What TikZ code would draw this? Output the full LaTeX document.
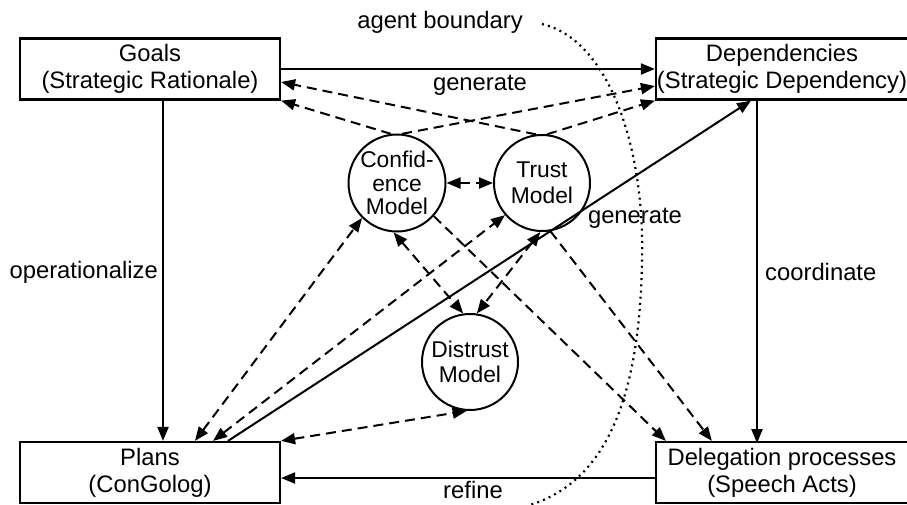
\documentclass[tikz,border=0pt]{standalone}
\usepackage{fontspec}
\setmainfont{Liberation Sans}
\usetikzlibrary{arrows.meta,calc}
\begin{document}
\begin{tikzpicture}[x=1pt,y=-1pt,
  box/.style={draw,line width=2.2pt,rectangle,minimum width=260pt,minimum height=61pt,inner sep=0pt,align=center,font=\fontsize{23.8pt}{27pt}\selectfont},
  model/.style={draw,line width=2pt,circle,minimum size=96pt,inner sep=0pt,align=center},
  lbl/.style={font=\fontsize{23.8pt}{27pt}\selectfont,inner sep=0pt},
  tip/.style={-{Triangle[length=14pt,width=11pt]}},
  dtip/.style={{Triangle[length=14pt,width=11pt]}-{Triangle[length=14pt,width=11pt]}},
  solid line/.style={line width=2pt},
  dashline/.style={line width=2pt,dash pattern=on 10pt off 6pt},
  dotline/.style={line width=2.2pt,dash pattern=on 2pt off 4.2pt}
]
\useasboundingbox (0,0) rectangle (907,504);
% boxes
\node[box] (goals) at (150,69) {Goals\\(Strategic Rationale)};
\node[box,minimum width=252pt] (dep) at (782,69) {Dependencies\\(Strategic Dependency)};
\node[box] (plans) at (150,472.5) {Plans\\(ConGolog)};
\node[box,minimum width=252pt] (deleg) at (782,472.5) {Delegation processes\\(Speech Acts)};
% models
\node[model,font=\fontsize{22.8pt}{23.5pt}\selectfont] (conf) at (397,183) {Confid-\\ence\\Model};
\node[model,font=\fontsize{22.8pt}{26pt}\selectfont] (trust) at (542,183) {Trust\\Model};
\node[model,font=\fontsize{22.8pt}{25pt}\selectfont] (dist) at (470,362) {Distrust\\Model};
% agent boundary
\node[lbl,anchor=base] (ab) at (440,28) {agent boundary};
\coordinate (abs) at (542,24);
\coordinate (abe) at (530,505);
\draw[dotline] (abs) .. controls (610,40) and (645,150) .. (642,260)
  .. controls (640,390) and (610,480) .. (abe);
% solid connectors
\draw[solid line,tip] (goals.east) -- (dep.west);
\node[lbl,anchor=base] (gen1) at (480,90) {generate};
\draw[solid line,tip] ($(goals.south)+(13,0)$) -- ($(plans.north)+(13,0)$);
\node[lbl,anchor=base east] (op) at (158,278) {operationalize};
\draw[solid line,tip] ($(dep.south)+(-25,0)$) -- ($(deleg.south)+(-25,-61)$);
\node[lbl,anchor=base west] (coord) at (765,280) {coordinate};
\draw[solid line,tip] ($(deleg.west)+(0,5.5)$) -- ($(plans.east)+(0,5.5)$);
\node[lbl,anchor=base] (ref) at (473,498) {refine};
\draw[solid line,tip] ($(plans.north)+(78,0)$) -- ($(dep.south)+(-31,0)$);
\node[lbl,anchor=base] (gen2) at (635,223) {generate};
% dashed connectors
\draw[dashline,tip] (conf.97) -- (goals.south east);
\draw[dashline,tip] (trust.97) -- ($(goals.east)+(0,13)$);
\draw[dashline,tip] (conf.84) -- ($(dep.west)+(0,17)$);
\draw[dashline,tip] (trust.84) -- (dep.south west);
\draw[dashline,dtip] (conf.east) -- (trust.west);
\draw[dashline,dtip] (conf.266) -- (dist.98);
\draw[dashline,dtip] (trust.268) -- (dist.82);
\draw[dashline,dtip] ($(plans.north)+(45,0)$) -- (conf.225);
\draw[dashline,dtip] ($(plans.north)+(63,0)$) -- (trust.221);
\draw[dashline,dtip] (plans.north east) -- (dist.266);
\draw[dashline,tip] (conf.318) -- ($(deleg.north west)+(11,0)$);
\draw[dashline,tip] (trust.280) -- ($(deleg.north west)+(57,0)$);
\end{tikzpicture}
\end{document}
